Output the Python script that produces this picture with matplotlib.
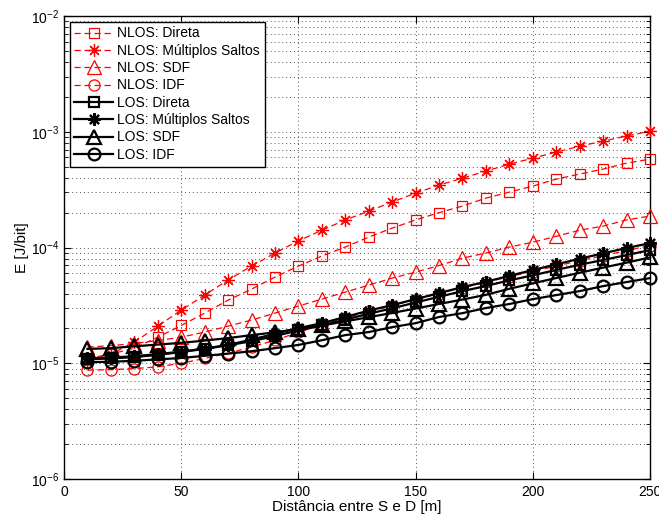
import matplotlib
matplotlib.use("Agg")
import matplotlib.pyplot as plt
from matplotlib.ticker import LogLocator, FixedLocator, NullFormatter

plt.rcParams['font.family'] = ['Liberation Sans', 'DejaVu Sans']
plt.rcParams['mathtext.fontset'] = 'custom'
plt.rcParams['mathtext.rm'] = 'Liberation Sans'

dist = [10, 20, 30, 40, 50, 60, 70, 80, 90, 100, 110, 120, 130, 140, 150,
        160, 170, 180, 190, 200, 210, 220, 230, 240, 250]

nlos_direta = [1.10e-5, 1.20e-5, 1.35e-5, 1.68e-5, 2.12e-5, 2.71e-5, 3.51e-5, 4.37e-5,
               5.55e-5, 6.91e-5, 8.43e-5, 1.01e-4, 1.23e-4, 1.47e-4, 1.73e-4, 2.00e-4,
               2.28e-4, 2.67e-4, 3.01e-4, 3.39e-4, 3.90e-4, 4.31e-4, 4.76e-4, 5.36e-4, 5.80e-4]
nlos_multi = [1.05e-5, 1.20e-5, 1.52e-5, 2.09e-5, 2.88e-5, 3.88e-5, 5.23e-5, 6.91e-5,
              8.95e-5, 1.14e-4, 1.41e-4, 1.73e-4, 2.06e-4, 2.47e-4, 2.95e-4, 3.46e-4,
              3.97e-4, 4.57e-4, 5.25e-4, 5.91e-4, 6.67e-4, 7.51e-4, 8.29e-4, 9.20e-4, 1.01e-3]
nlos_sdf = [1.38e-5, 1.42e-5, 1.48e-5, 1.57e-5, 1.68e-5, 1.86e-5, 2.09e-5, 2.36e-5,
            2.71e-5, 3.12e-5, 3.58e-5, 4.12e-5, 4.73e-5, 5.44e-5, 6.13e-5, 6.98e-5,
            8.10e-5, 8.95e-5, 1.01e-4, 1.11e-4, 1.25e-4, 1.41e-4, 1.53e-4, 1.73e-4, 1.87e-4]
nlos_idf = [8.7e-6, 8.8e-6, 9.0e-6, 9.3e-6, 1.00e-5, 1.10e-5, 1.22e-5, 1.38e-5,
            1.58e-5, 1.85e-5, 2.15e-5, 2.45e-5, 2.80e-5, 3.15e-5, 3.55e-5, 4.00e-5,
            4.50e-5, 5.00e-5, 5.60e-5, 6.20e-5, 6.90e-5, 7.70e-5, 8.50e-5, 9.40e-5, 1.04e-4]
los_direta = [1.08e-5, 1.10e-5, 1.13e-5, 1.18e-5, 1.25e-5, 1.33e-5, 1.43e-5, 1.55e-5,
              1.72e-5, 1.92e-5, 2.12e-5, 2.38e-5, 2.68e-5, 2.98e-5, 3.35e-5, 3.75e-5,
              4.20e-5, 4.65e-5, 5.20e-5, 5.75e-5, 6.40e-5, 7.10e-5, 7.80e-5, 8.60e-5, 9.50e-5]
los_multi = [1.10e-5, 1.12e-5, 1.15e-5, 1.20e-5, 1.26e-5, 1.34e-5, 1.44e-5, 1.60e-5,
             1.80e-5, 2.01e-5, 2.22e-5, 2.51e-5, 2.85e-5, 3.18e-5, 3.58e-5, 4.04e-5,
             4.55e-5, 5.05e-5, 5.70e-5, 6.38e-5, 7.15e-5, 8.00e-5, 8.90e-5, 9.90e-5, 1.09e-4]
los_sdf = [1.33e-5, 1.35e-5, 1.40e-5, 1.45e-5, 1.50e-5, 1.57e-5, 1.65e-5, 1.75e-5,
           1.85e-5, 1.98e-5, 2.12e-5, 2.30e-5, 2.50e-5, 2.72e-5, 2.97e-5, 3.25e-5,
           3.55e-5, 3.90e-5, 4.40e-5, 4.90e-5, 5.45e-5, 6.05e-5, 6.70e-5, 7.40e-5, 8.20e-5]
los_idf = [1.02e-5, 1.03e-5, 1.05e-5, 1.08e-5, 1.11e-5, 1.16e-5, 1.21e-5, 1.27e-5,
           1.35e-5, 1.44e-5, 1.58e-5, 1.75e-5, 1.86e-5, 2.05e-5, 2.22e-5, 2.51e-5,
           2.71e-5, 3.00e-5, 3.25e-5, 3.58e-5, 3.88e-5, 4.20e-5, 4.64e-5, 5.03e-5, 5.44e-5]

labels = ['NLOS: Direta', 'NLOS: Múltiplos Saltos', 'NLOS: SDF', 'NLOS: IDF',
          'LOS: Direta', 'LOS: Múltiplos Saltos', 'LOS: SDF', 'LOS: IDF']
xticks = [0, 50, 100, 150, 200, 250]

fig = plt.figure(figsize=(6.59, 5.23), dpi=100)
ax = fig.add_axes([64/659, 1-479/523, (650-64)/659, (479-16)/523])

star = (8, 2, 0)
series = [
    (nlos_direta, 's', 'red', '--', 0.9, 0.9, 7.5, 8),
    (nlos_multi, star, 'red', '--', 0.9, 0.9, 9, 8),
    (nlos_sdf, '^', 'red', '--', 0.9, 0.9, 9.5, 8),
    (nlos_idf, 'o', 'red', '--', 0.9, 0.9, 8, 8),
    (los_direta, 's', 'black', '-', 1.6, 1.6, 7.5, 9),
    (los_multi, star, 'black', '-', 1.6, 1.6, 9, 9),
    (los_sdf, '^', 'black', '-', 1.6, 1.6, 9.5, 9),
    (los_idf, 'o', 'black', '-', 1.6, 1.6, 8.5, 9),
]
for (vals, mk, col, ls, lw, mew, ms, z), lab in zip(series, labels):
    ax.plot(dist, vals, linestyle=ls, color=col, linewidth=lw, marker=mk,
            markersize=ms, markerfacecolor='none', markeredgecolor=col,
            markeredgewidth=mew, dashes=(5, 3) if ls == '--' else (None, None),
            label=lab, zorder=z, clip_on=False)

ax.set_yscale('log')
ax.set_xlim(0, 250)
ax.set_ylim(1e-6, 1e-2)
ax.xaxis.set_major_locator(FixedLocator(xticks))
ax.yaxis.set_major_locator(LogLocator(base=10, numticks=10))
ax.yaxis.set_minor_locator(LogLocator(base=10, subs=range(2, 10), numticks=10))
ax.yaxis.set_minor_formatter(NullFormatter())

ax.grid(True, which='major', axis='both', linestyle=(0, (1, 3)), color='#555555', linewidth=0.7)
ax.grid(True, which='minor', axis='y', linestyle=(0, (1, 3)), color='#555555', linewidth=0.7)

ax.tick_params(which='both', direction='in', top=True, right=True, labelsize=10, colors='black')
ax.tick_params(which='major', length=5)
ax.tick_params(which='minor', length=3)
ax.tick_params(axis='x', pad=4)
for s in ax.spines.values():
    s.set_linewidth(1.0)

ax.set_xlabel('Distância entre S e D [m]', fontsize=11, labelpad=1)
ax.set_ylabel('E [J/bit]', fontsize=11, labelpad=1)

leg = ax.legend(loc='upper left', fontsize=10, frameon=True, fancybox=False,
                edgecolor='black', framealpha=1, borderaxespad=0.4,
                handlelength=2.8, handletextpad=0.3, labelspacing=0.24,
                borderpad=0.35)
leg.get_frame().set_linewidth(1.0)

fig.savefig('out.png', dpi=100)
